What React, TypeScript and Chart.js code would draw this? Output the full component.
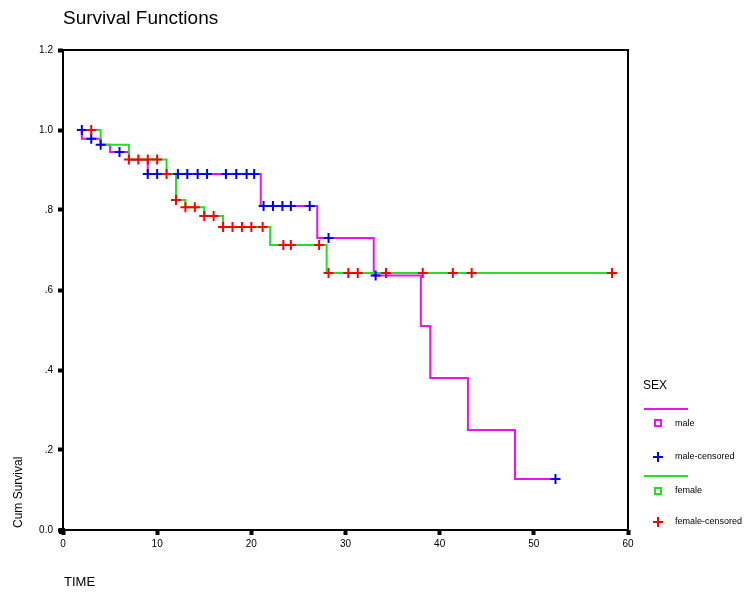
import React, { useEffect, useRef } from "react";
import { Chart, registerables } from "chart.js";

Chart.register(...registerables);

// Kaplan-Meier step curves (time, cumulative survival after the event)
const maleTimes = [2, 2, 4, 5, 7, 9, 21, 27, 33, 38, 39, 43, 48, 52.3];
const maleSurvival = [1.0, 0.978, 0.963, 0.945, 0.925, 0.89, 0.81, 0.73, 0.636, 0.51, 0.38, 0.25, 0.1275, 0.1275];

const femaleTimes = [3, 4, 7, 11, 12, 13, 15, 17, 22, 28, 58.3];
const femaleSurvival = [1.0, 0.963, 0.926, 0.89, 0.825, 0.807, 0.785, 0.7575, 0.7125, 0.6425, 0.6425];

// Censored observations
const maleCensoredTimes = [2, 3, 4, 6, 9, 10, 12.2, 13.2, 14.3, 15.3, 17.3, 18.4, 19.5, 20.3, 21.3, 22.3, 23.3, 24.2, 26.2, 28.2, 33.2, 52.3];
const maleCensoredSurvival = [1.0, 0.978, 0.963, 0.945, 0.89, 0.89, 0.89, 0.89, 0.89, 0.89, 0.89, 0.89, 0.89, 0.89, 0.81, 0.81, 0.81, 0.81, 0.81, 0.73, 0.636, 0.1275];

const femaleCensoredTimes = [3, 7, 8, 9, 10, 11, 12, 13, 14, 15, 16, 17, 18, 19, 20, 21.2, 23.4, 24.2, 27.2, 28.2, 30.3, 31.3, 34.3, 38.2, 41.4, 43.4, 58.3];
const femaleCensoredSurvival = [1.0, 0.926, 0.926, 0.926, 0.926, 0.89, 0.825, 0.807, 0.807, 0.785, 0.785, 0.7575, 0.7575, 0.7575, 0.7575, 0.7575, 0.7125, 0.7125, 0.7125, 0.6425, 0.6425, 0.6425, 0.6425, 0.6425, 0.6425, 0.6425, 0.6425];

const xTicks = [0, 10, 20, 30, 40, 50, 60];
const yTicks = [0, 0.2, 0.4, 0.6, 0.8, 1.0, 1.2];
const yTickLabels = ["0.0", ".2", ".4", ".6", ".8", "1.0", "1.2"];

const chartTitle = "Survival Functions";
const xTitle = "TIME";
const yTitle = "Cum Survival";
const legendTitle = "SEX";
const legendLabels = ["male", "male-censored", "female", "female-censored"];

const MAGENTA = "#ee10ee";
const GREEN = "#22e022";
const BLUE = "#0000ff";
const RED = "#ff0000";
const FONT = "'Liberation Sans', Arial, sans-serif";

const toPoints = (xs: number[], ys: number[]) => xs.map((x, i) => ({ x, y: ys[i] }));

const decorPlugin = {
  id: "decor",
  afterDatasetsDraw(chart: any) {
    const { ctx, chartArea } = chart;
    const { left, top, right, bottom } = chartArea;
    ctx.save();
    // frame
    ctx.strokeStyle = "#000";
    ctx.lineWidth = 2;
    ctx.strokeRect(left, top, right - left, bottom - top);
    // corner square
    ctx.fillStyle = "#000";
    ctx.fillRect(left - 4, bottom - 2, 6, 6);

    // title
    ctx.fillStyle = "#000";
    ctx.font = `19px ${FONT}`;
    ctx.textAlign = "left";
    ctx.textBaseline = "alphabetic";
    ctx.fillText(chartTitle, 63, 24);

    // x title
    ctx.font = `13px ${FONT}`;
    ctx.fillText(xTitle, 64, 586);

    // y title
    ctx.save();
    ctx.translate(22, 528);
    ctx.rotate(-Math.PI / 2);
    ctx.font = `12px ${FONT}`;
    ctx.textAlign = "left";
    ctx.fillText(yTitle, 0, 0);
    ctx.restore();

    // legend
    ctx.font = `12px ${FONT}`;
    ctx.textBaseline = "middle";
    ctx.fillText(legendTitle, 643, 386);

    ctx.lineWidth = 2;
    ctx.strokeStyle = MAGENTA;
    ctx.beginPath();
    ctx.moveTo(644, 409);
    ctx.lineTo(688, 409);
    ctx.stroke();
    ctx.strokeRect(655, 420, 6, 6);

    ctx.strokeStyle = BLUE;
    ctx.beginPath();
    ctx.moveTo(653, 457);
    ctx.lineTo(663, 457);
    ctx.moveTo(658, 452);
    ctx.lineTo(658, 462);
    ctx.stroke();

    ctx.strokeStyle = GREEN;
    ctx.beginPath();
    ctx.moveTo(644, 476);
    ctx.lineTo(688, 476);
    ctx.stroke();
    ctx.strokeRect(655, 488, 6, 6);

    ctx.strokeStyle = RED;
    ctx.beginPath();
    ctx.moveTo(653, 522);
    ctx.lineTo(663, 522);
    ctx.moveTo(658, 517);
    ctx.lineTo(658, 527);
    ctx.stroke();

    ctx.fillStyle = "#000";
    ctx.font = `9px ${FONT}`;
    ctx.fillText(legendLabels[0], 675, 424);
    ctx.fillText(legendLabels[1], 675, 457);
    ctx.fillText(legendLabels[2], 675, 491);
    ctx.fillText(legendLabels[3], 675, 522);
    ctx.restore();
  },
};

export default function App() {
  const canvasRef = useRef<HTMLCanvasElement | null>(null);

  useEffect(() => {
    const canvas = canvasRef.current;
    if (!canvas) return;
    const chart = new Chart(canvas, {
      type: "line",
      data: {
        datasets: [
          {
            label: "female-censored",
            data: toPoints(femaleCensoredTimes, femaleCensoredSurvival),
            showLine: false,
            pointStyle: "cross",
            pointRadius: 5,
            pointBorderWidth: 2,
            borderColor: RED,
            backgroundColor: RED,
            order: 0,
          },
          {
            label: "male-censored",
            data: toPoints(maleCensoredTimes, maleCensoredSurvival),
            showLine: false,
            pointStyle: "cross",
            pointRadius: 5,
            pointBorderWidth: 2,
            borderColor: BLUE,
            backgroundColor: BLUE,
            order: 1,
          },
          {
            label: "female",
            data: toPoints(femaleTimes, femaleSurvival),
            stepped: "before",
            borderColor: GREEN,
            borderWidth: 2,
            pointRadius: 0,
            fill: false,
            order: 2,
          },
          {
            label: "male",
            data: toPoints(maleTimes, maleSurvival),
            stepped: "before",
            borderColor: MAGENTA,
            borderWidth: 2,
            pointRadius: 0,
            fill: false,
            order: 3,
          },
        ],
      },
      options: {
        animation: false,
        responsive: false,
        maintainAspectRatio: false,
        events: [],
        layout: { padding: { left: 0, top: 50, right: 117, bottom: 34 } },
        plugins: {
          legend: { display: false },
          title: { display: false },
          tooltip: { enabled: false },
        },
        scales: {
          x: {
            type: "linear",
            min: 0,
            max: 60,
            afterFit: (s: any) => {
              s.height = 30;
            },
            afterBuildTicks: (s: any) => {
              s.ticks = xTicks.map((v) => ({ value: v }));
            },
            ticks: {
              color: "#000",
              font: { family: FONT, size: 10 },
              padding: 3,
              maxRotation: 0,
              autoSkip: false,
              callback: (v: any) => String(v),
            },
            grid: {
              display: true,
              drawOnChartArea: false,
              drawTicks: true,
              tickLength: 5,
              tickWidth: 4,
              tickColor: "#000",
            },
            border: { display: false },
          },
          y: {
            type: "linear",
            min: 0,
            max: 1.2,
            afterFit: (s: any) => {
              s.width = 63;
            },
            afterBuildTicks: (s: any) => {
              s.ticks = yTicks.map((v) => ({ value: v }));
            },
            ticks: {
              color: "#000",
              font: { family: FONT, size: 10 },
              padding: 5,
              autoSkip: false,
              callback: (v: any) => {
                const i = yTicks.findIndex((t) => Math.abs(t - v) < 1e-6);
                return i >= 0 ? yTickLabels[i] : "";
              },
            },
            grid: {
              display: true,
              drawOnChartArea: false,
              drawTicks: true,
              tickLength: 5,
              tickWidth: 4,
              tickColor: "#000",
            },
            border: { display: false },
          },
        },
      },
      plugins: [decorPlugin],
    });
    return () => chart.destroy();
  }, []);

  return (
    <div style={{ position: "absolute", left: 0, top: 0, width: 745, height: 594, background: "#fff" }}>
      <canvas ref={canvasRef} width={745} height={594} style={{ width: 745, height: 594, display: "block" }} />
    </div>
  );
}
